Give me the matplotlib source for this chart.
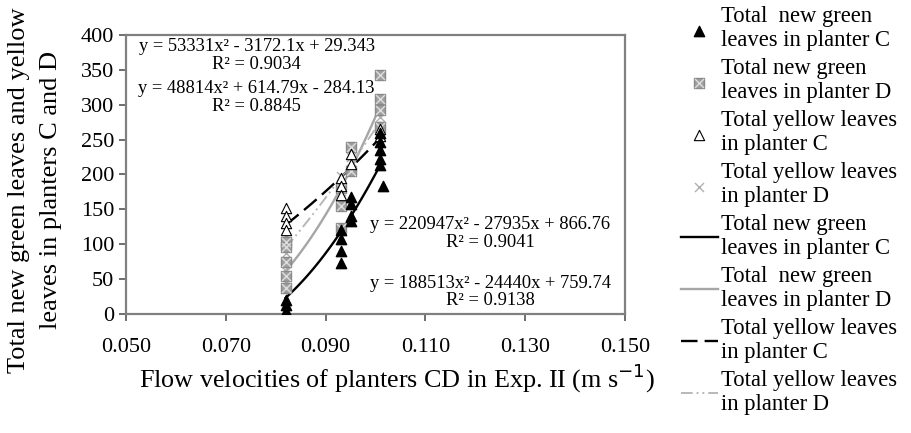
import numpy as np
from matplotlib import pyplot as plt

plt.rcParams['font.family'] = ['Liberation Serif', 'DejaVu Serif']

# points (flow velocity, leaf count)
green_c_x = [0.082, 0.082, 0.082, 0.082, 0.093, 0.093, 0.093, 0.093,
             0.095, 0.095, 0.095, 0.095, 0.101, 0.101, 0.101, 0.101, 0.101, 0.1015]
green_c_y = [0, 4, 13, 20, 120, 108, 90, 73, 168, 158, 140, 133, 260, 246, 235, 222, 213, 183]

green_d_x = [0.082, 0.082, 0.082, 0.082, 0.082, 0.093, 0.093, 0.093,
             0.095, 0.095, 0.101, 0.101, 0.101, 0.101]
green_d_y = [103, 96, 75, 55, 37, 180, 155, 123, 240, 205, 342, 308, 292, 268]

yellow_c_x = [0.082, 0.082, 0.082, 0.082, 0.093, 0.093, 0.093, 0.095, 0.095, 0.101, 0.101]
yellow_c_y = [152, 140, 130, 120, 195, 183, 170, 230, 215, 265, 255]

yellow_d_x = [0.082, 0.082, 0.082, 0.082, 0.093, 0.093, 0.095, 0.095, 0.101, 0.101, 0.101]
yellow_d_y = [110, 88, 62, 45, 198, 165, 225, 208, 300, 282, 262]

# trend line coefficients (a, b, c) as printed on the chart
fit_green_c = [188513, -24440, 759.74]
fit_green_d = [220947, -27935, 866.76]
fit_yellow_c = [53331, -3172.1, 29.343]
fit_yellow_d = [48814, 614.79, -284.13]

# equation labels: (text, x, y)
eq_lines = [('y = 53331x² - 3172.1x + 29.343', 0.0762, 383),
            ('R² = 0.9034', 0.0762, 357),
            ('y = 48814x² + 614.79x - 284.13', 0.0762, 324),
            ('R² = 0.8845', 0.0762, 298),
            ('y = 220947x² - 27935x + 866.76', 0.1230, 129),
            ('R² = 0.9041', 0.1230, 103),
            ('y = 188513x² - 24440x + 759.74', 0.1230, 44),
            ('R² = 0.9138', 0.1230, 20)]

labels = ['Total  new green\nleaves in planter C',
          'Total new green\nleaves in planter D',
          'Total yellow leaves\nin planter C',
          'Total yellow leaves\nin planter D',
          'Total new green\nleaves in planter C',
          'Total  new green\nleaves in planter D',
          'Total yellow leaves\nin planter C',
          'Total yellow leaves\nin planter D']

fig = plt.figure(figsize=(9.11, 4.33), dpi=100)
ax = fig.add_axes([0.1383, 0.2748, 0.5477, 0.6444])

xs = np.linspace(0.082, 0.101, 100)
def poly(c):
    return c[0] * xs ** 2 + c[1] * xs + c[2]

l1, = ax.plot(xs, poly(fit_green_c), color='black', lw=1.7)
l2, = ax.plot(xs, poly(fit_green_d), color='#a6a6a6', lw=1.7)
l3, = ax.plot(xs, poly(fit_yellow_c), color='black', lw=1.7, dashes=(7, 3))
l4, = ax.plot(xs, poly(fit_yellow_d), color='#b8b8b8', lw=1.4, dashes=(6, 2, 1, 2, 1, 2))

s1 = ax.scatter(green_c_x, green_c_y, marker='^', s=55, color='black', zorder=5)
s2a = ax.scatter(green_d_x, green_d_y, marker='s', s=60, facecolor='#a0a0a0',
                 edgecolor='#8a8a8a', zorder=4)
s2b = ax.scatter(green_d_x, green_d_y, marker='x', s=42, color='#dcdcdc', lw=1, zorder=4)
s3 = ax.scatter(yellow_c_x, yellow_c_y, marker='^', s=55, facecolor='white',
                edgecolor='black', lw=0.8, zorder=4)
s4 = ax.scatter(yellow_d_x, yellow_d_y, marker='x', s=42, color='#b0b0b0', lw=1, zorder=3)

for txt, tx, ty in eq_lines:
    ax.text(tx, ty, txt, ha='center', va='center', fontsize=13.3)

ax.set_xlim(0.05, 0.15)
ax.set_ylim(0, 400)
ax.set_xticks([0.05, 0.07, 0.09, 0.11, 0.13, 0.15])
ax.set_xticklabels(['0.050', '0.070', '0.090', '0.110', '0.130', '0.150'])
ax.set_yticks(range(0, 401, 50))
ax.tick_params(labelsize=16, direction='out', length=5, width=1.2, color='#555555')
ax.tick_params(axis='x', pad=12)
for sp in ax.spines.values():
    sp.set_color('#808080')
    sp.set_linewidth(1.6)

fig.text(0.021, 0.561, 'Total new green leaves and yellow', rotation=90,
         ha='center', va='center', fontsize=19)
fig.text(0.056, 0.561, 'leaves in planters C and D', rotation=90,
         ha='center', va='center', fontsize=19)
fig.text(0.436, 0.127, 'Flow velocities of planters CD in Exp. II (m s$^{-1}$)',
         ha='center', va='center', fontsize=18.8)

handles = [s1, (s2a, s2b), s3, s4, l1, l2, l3, l4]
leg = fig.legend(handles, labels, loc='upper left', bbox_to_anchor=(0.738, 1.007),
                 frameon=False, fontsize=16.3, handlelength=1.6, handletextpad=0.15,
                 labelspacing=0.3, borderaxespad=0)
for t in leg.get_texts():
    t.set_linespacing(1.2)

fig.savefig('out.png', dpi=100)
